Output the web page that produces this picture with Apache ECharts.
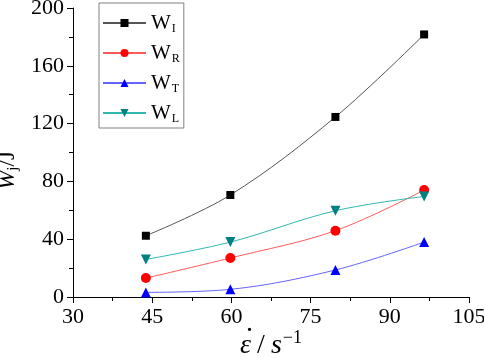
<!DOCTYPE html>
<html><head><meta charset="utf-8">
<script src="https://cdn.jsdelivr.net/npm/echarts@6/dist/echarts.min.js"></script>
<style>html,body{margin:0;padding:0;background:#fff}#c{width:484px;height:359px}</style>
</head><body><div id="c"></div>
<script>
const strainRate = [43.8, 59.8, 79.7, 96.5];
const W_I = [42.4, 70.6, 124.6, 181.7];
const W_R = [13.1, 27.0, 45.9, 74.0];
const W_T = [3.2, 5.3, 18.7, 38.0];
const W_L = [26.0, 38.0, 59.7, 69.6];
const seriesNames = ['W_I', 'W_R', 'W_T', 'W_L'];
const subs = {W_I: 'I', W_R: 'R', W_T: 'T', W_L: 'L'};

const font = '"Liberation Serif"';
const chart = echarts.init(document.getElementById('c'));
function mk(name, data, lineColor, markColor, symbol, size, rot) {
  return {
    name: name, type: 'line', smooth: 0.35,
    data: strainRate.map((x, i) => [x, data[i]]),
    symbol: symbol, symbolSize: size, symbolRotate: rot || 0,
    lineStyle: {color: lineColor, width: 1},
    itemStyle: {color: markColor},
    z: 3
  };
}
chart.setOption({
  animation: false,
  textStyle: {fontFamily: font},
  grid: {left: 73, right: 15, top: 8, bottom: 62, outerBoundsMode: 'none', containLabel: false},
  legend: {
    orient: 'vertical', left: 99, top: 3,
    padding: [8, 4, 3, 3],
    borderColor: '#808080', borderWidth: 1,
    itemWidth: 43, itemHeight: 10, itemGap: 6,
    data: seriesNames,
    formatter: n => '{w|W}{s|' + subs[n] + '}',
    textStyle: {
      fontFamily: font,
      rich: {
        w: {fontSize: 21, lineHeight: 22, fontFamily: font, color: '#000'},
        s: {fontSize: 12, lineHeight: 22, padding: [12, 0, 0, 1], fontFamily: font, color: '#000'}
      }
    }
  },
  xAxis: {
    type: 'value', min: 30, max: 105, interval: 15,
    name: '{d|.}\n{e|ε} {n|/} {e|s}{p|−1}', nameLocation: 'middle', nameGap: 22,
    nameMoveOverlap: false,
    nameTextStyle: {
      rich: {
        d: {fontSize: 28, lineHeight: 10, align: 'left', padding: [0, 0, 0, 6], fontFamily: font, color: '#000'},
        e: {fontSize: 28, fontStyle: 'italic', fontFamily: font, color: '#000'},
        n: {fontSize: 28, fontFamily: font, color: '#000', padding: [0, 3, 0, 3]},
        p: {fontSize: 18, fontFamily: font, color: '#000', padding: [0, 0, 16, 1]}
      }
    },
    axisLine: {lineStyle: {color: '#000', width: 1}},
    axisTick: {length: 6, lineStyle: {color: '#000'}},
    minorTick: {show: true, splitNumber: 2, length: 4, lineStyle: {color: '#000'}},
    axisLabel: {fontSize: 22, color: '#000', fontFamily: font, margin: 9},
    splitLine: {show: false}
  },
  yAxis: {
    type: 'value', min: 0, max: 200, interval: 40,
    name: '{w|W}{j|j}{n|/J}', nameLocation: 'middle', nameGap: 52, nameRotate: 90,
    nameMoveOverlap: false,
    nameTextStyle: {
      padding: [0, 36, 0, 0],
      rich: {
        w: {fontSize: 23, fontStyle: 'italic', fontFamily: font, color: '#000'},
        j: {fontSize: 15, fontFamily: font, color: '#000', padding: [11, 0, 0, 0]},
        n: {fontSize: 23, fontFamily: font, color: '#000'}
      }
    },
    axisLine: {show: true, lineStyle: {color: '#000', width: 1}},
    axisTick: {show: true, length: 6, lineStyle: {color: '#000'}},
    minorTick: {show: true, splitNumber: 2, length: 4, lineStyle: {color: '#000'}},
    axisLabel: {fontSize: 22, color: '#000', fontFamily: font, margin: 9},
    splitLine: {show: false}
  },
  series: [
    mk('W_I', W_I, '#555555', '#000000', 'rect', 8),
    mk('W_R', W_R, '#ff5a5a', '#ff0000', 'circle', 10),
    mk('W_T', W_T, '#6464ff', '#0000ff', 'triangle', 10),
    mk('W_L', W_L, '#30b8b0', '#008080', 'triangle', 10, 180)
  ]
});
</script></body></html>
